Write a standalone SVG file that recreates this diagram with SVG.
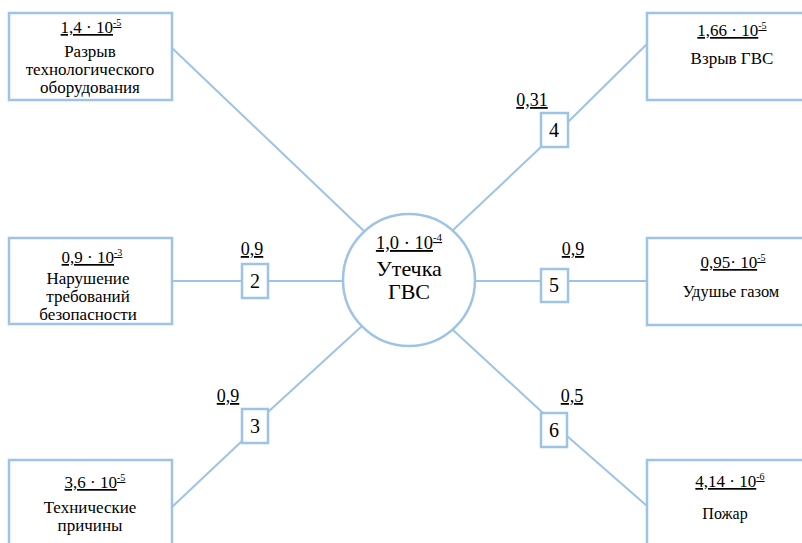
<svg xmlns="http://www.w3.org/2000/svg" width="802" height="543" viewBox="0 0 802 543">
<style>
.box{fill:#fff;stroke:#9DC3E6;stroke-width:2.5}
.sm{fill:#fff;stroke:#9DC3E6;stroke-width:2.5}
.ln{stroke:#9DC3E6;stroke-width:2;fill:none}
text{font-family:'Liberation Serif','Times New Roman',serif;fill:#000;text-anchor:middle}
.t{font-size:17px}
.n{font-size:17px;text-decoration:underline}
.sup{font-size:10px}
.num{font-size:20px}
.p{font-size:18px;text-decoration:underline}
.c{font-size:22px}
</style>
<rect width="802" height="543" fill="#fff"/>
<g id="connectors">
<line class="ln" x1="172" y1="48" x2="365" y2="232"/>
<line class="ln" x1="172" y1="281" x2="343" y2="281"/>
<line class="ln" x1="172" y1="507" x2="242" y2="441"/>
<line class="ln" x1="268" y1="412" x2="362" y2="326"/>
<line class="ln" x1="452" y1="231" x2="541" y2="147"/>
<line class="ln" x1="568" y1="122" x2="647" y2="44"/>
<line class="ln" x1="475" y1="281" x2="647" y2="281"/>
<line class="ln" x1="453" y1="330" x2="543" y2="413"/>
<line class="ln" x1="567" y1="436" x2="647" y2="506"/>
</g>
<g id="center">
<ellipse cx="409" cy="280" rx="66" ry="66" fill="#fff" stroke="#9DC3E6" stroke-width="2.5"/>
<text x="409" y="249" class="n" style="font-size:18.5px">1,0 · 10<tspan class="sup" dy="-8" style="font-size:11px">-4</tspan></text>
<text x="409" y="276" class="c">Утечка</text>
<text x="409" y="299" class="c">ГВС</text>
</g>
<g id="node-razryv">
<rect class="box" x="9" y="13" width="163" height="87"/>
<text x="91" y="33" class="n">1,4 · 10<tspan class="sup" dy="-7">-5</tspan></text>
<text x="90" y="57" class="t">Разрыв</text>
<text x="90" y="75" class="t">технологического</text>
<text x="90" y="93" class="t">оборудования</text>
</g>
<g id="node-narushenie">
<rect class="box" x="9" y="238" width="163" height="86"/>
<text x="92" y="263" class="n">0,9 · 10<tspan class="sup" dy="-7">-3</tspan></text>
<text x="88" y="284" class="t">Нарушение</text>
<text x="88" y="302" class="t">требований</text>
<text x="88" y="320" class="t">безопасности</text>
</g>
<g id="node-tech">
<rect class="box" x="9" y="460" width="163" height="90"/>
<text x="95" y="488" class="n">3,6 · 10<tspan class="sup" dy="-7">-5</tspan></text>
<text x="90" y="513" class="t">Технические</text>
<text x="90" y="531" class="t">причины</text>
</g>
<g id="node-vzryv">
<rect class="box" x="647" y="13" width="170" height="87"/>
<text x="732" y="36" class="n">1,66 · 10<tspan class="sup" dy="-7">-5</tspan></text>
<text x="732" y="64" class="t">Взрыв ГВС</text>
</g>
<g id="node-udushye">
<rect class="box" x="647" y="238" width="170" height="87"/>
<text x="733" y="268" class="n">0,95· 10<tspan class="sup" dy="-7">-5</tspan></text>
<text x="731" y="297" class="t" style="font-size:16.5px">Удушье газом</text>
</g>
<g id="node-pozhar">
<rect class="box" x="647" y="460" width="170" height="90"/>
<text x="730" y="487" class="n">4,14 · 10<tspan class="sup" dy="-7">-6</tspan></text>
<text x="725" y="519" class="t" style="font-size:16px">Пожар</text>
</g>
<g id="gate-2">
<rect class="sm" x="242" y="264" width="26" height="34"/>
<text x="255" y="288" class="num">2</text>
<text x="252" y="255" class="p">0,9</text>
</g>
<g id="gate-3">
<rect class="sm" x="242" y="409" width="26" height="34"/>
<text x="255" y="433" class="num">3</text>
<text x="228" y="402" class="p">0,9</text>
</g>
<g id="gate-4">
<rect class="sm" x="541" y="113" width="27" height="34"/>
<text x="554" y="137" class="num">4</text>
<text x="532" y="106" class="p">0,31</text>
</g>
<g id="gate-5">
<rect class="sm" x="541" y="269" width="27" height="33"/>
<text x="554" y="292" class="num">5</text>
<text x="573" y="255" class="p">0,9</text>
</g>
<g id="gate-6">
<rect class="sm" x="541" y="413" width="26" height="34"/>
<text x="554" y="437" class="num">6</text>
<text x="572" y="402" class="p">0,5</text>
</g>
</svg>
